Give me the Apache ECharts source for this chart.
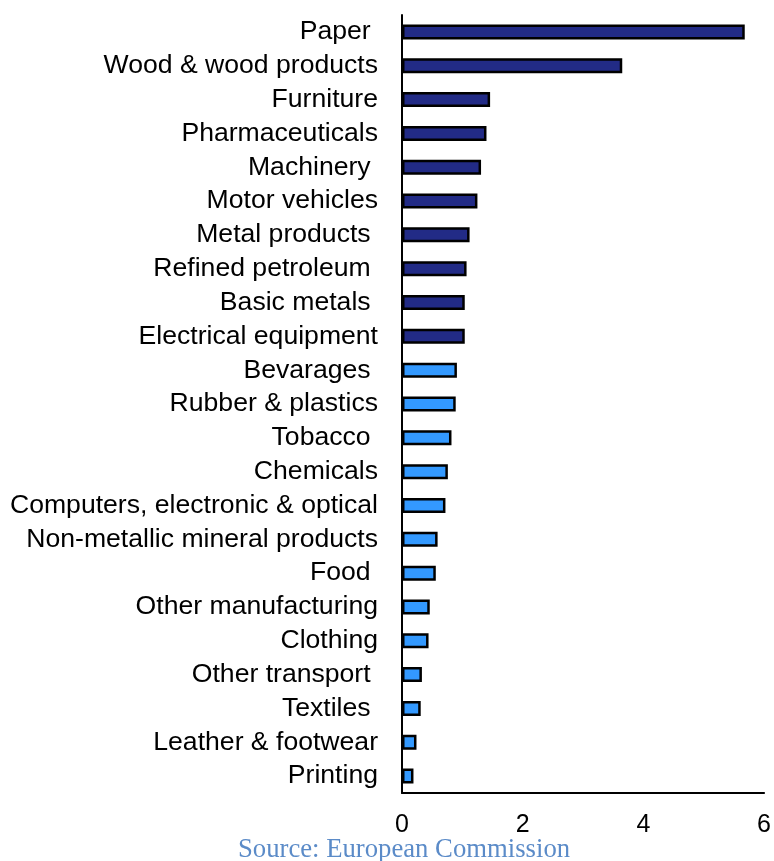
<!DOCTYPE html>
<html>
<head>
<meta charset="utf-8">
<script src="https://cdn.jsdelivr.net/npm/echarts@6/dist/echarts.min.js"></script>
<style>
html,body{margin:0;padding:0;background:#fff;}
#chart{width:774px;height:861px;}
</style>
</head>
<body>
<div id="chart"></div>
<script>
var categories = ["Paper ", "Wood & wood products", "Furniture", "Pharmaceuticals", "Machinery ", "Motor vehicles", "Metal products ", "Refined petroleum ", "Basic metals ", "Electrical equipment", "Bevarages ", "Rubber & plastics", "Tobacco ", "Chemicals", "Computers, electronic & optical", "Non-metallic mineral products", "Food ", "Other manufacturing", "Clothing", "Other transport ", "Textiles ", "Leather & footwear", "Printing"];
var values = [5.68, 3.65, 1.46, 1.40, 1.31, 1.25, 1.12, 1.07, 1.04, 1.04, 0.91, 0.89, 0.82, 0.76, 0.72, 0.59, 0.56, 0.46, 0.44, 0.33, 0.31, 0.24, 0.19];
var darkCount = 10;
var xTicks = [0, 2, 4, 6];
var sourceText = "Source: European Commission";

var chart = echarts.init(document.getElementById('chart'));
chart.setOption({
  animation: false,
  grid: {left: 402, right: 9, top: 15, bottom: 68, containLabel: false},
  graphic: [{
    type: 'text', left: 238, top: 836,
    style: {text: sourceText, font: '26.7px "Liberation Serif", "Times New Roman", serif', fill: '#5b8bc8'}
  }],
  xAxis: {
    type: 'value', min: 0, max: 6, interval: 2,
    axisLine: {show: true, lineStyle: {color: '#000', width: 2}},
    axisTick: {show: false},
    splitLine: {show: false},
    axisLabel: {color: '#000', fontSize: 25, fontFamily: 'Liberation Sans, Arial, sans-serif', margin: 20,
      formatter: function(v){ return xTicks.indexOf(v) >= 0 ? String(v) : ''; }}
  },
  yAxis: {
    type: 'category', inverse: true, data: categories,
    axisLine: {show: true, lineStyle: {color: '#000', width: 2}},
    axisTick: {show: false},
    axisLabel: {color: '#000', fontSize: 26.6, interval: 0, fontFamily: 'Liberation Sans, Arial, sans-serif', margin: 24}
  },
  series: [{
    type: 'bar', barWidth: 15,
    data: values.map(function(v, i){
      return {value: v, itemStyle: {color: i < darkCount ? '#222b86' : '#3399ff'}};
    }),
    itemStyle: {borderColor: '#000', borderWidth: 2.5}
  }]
});
</script>
</body>
</html>
